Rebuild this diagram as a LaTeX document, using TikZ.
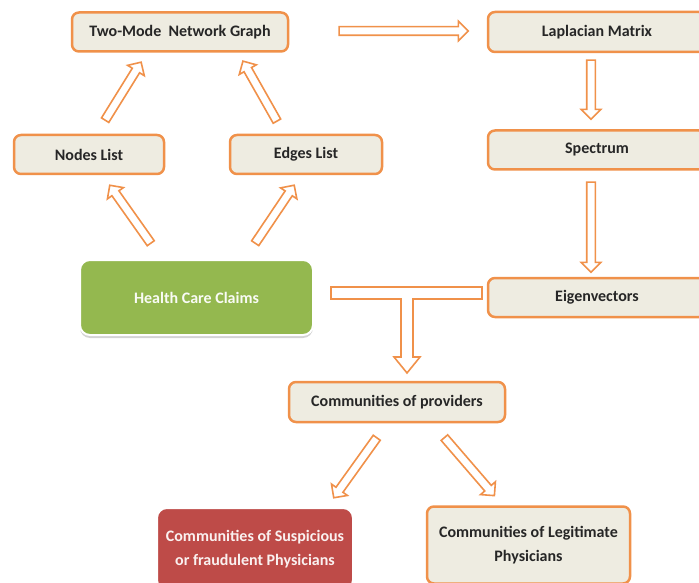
\documentclass[tikz,border=0pt]{standalone}
\usepackage{fontspec}
\setmainfont{Carlito}
\usetikzlibrary{shapes.arrows,calc,shadows}
\definecolor{boxor}{HTML}{F0914A}
\definecolor{boxfill}{HTML}{EEECE1}
\definecolor{hccgreen}{HTML}{94B84F}
\definecolor{fraudred}{HTML}{BE4B48}
\definecolor{txt}{HTML}{262626}
\newcommand\blockarr[2]{%
  \path let \p1=($(#2)-(#1)$), \n1={atan2(\y1,\x1)}, \n2={veclen(\x1,\y1)} in
    node[barr, minimum height=\n2, rotate=\n1] at ($(#1)!0.5!(#2)$) {};}
\begin{document}
\begin{tikzpicture}[x=1pt,y=-1pt,
  box/.style={draw=boxor, line width=2.5pt, fill=boxfill, rounded corners=7pt,
    align=center, text=txt, font=\fontsize{16}{24}\selectfont\bfseries, inner sep=0pt},
  colbox/.style={box, draw=white, line width=2pt, rounded corners=10pt,
    drop shadow={shadow xshift=0pt, shadow yshift=-3pt, opacity=0.35}},
  barr/.style={single arrow, draw=boxor, fill=white, line width=1.6pt,
    inner sep=3.5pt, single arrow head extend=5.5pt, single arrow tip angle=90,
    outer sep=0pt}]
\useasboundingbox (0,0) rectangle (699,583);
% boxes
\node[box, minimum width=216pt, minimum height=39pt] (two) at (180,32) {Two-Mode\ \ Network Graph};
\node[box, minimum width=218pt, minimum height=40pt] (lap) at (597,32) {Laplacian Matrix};
\node[box, minimum width=150pt, minimum height=39pt] (nodes) at (89,154.5) {Nodes List};
\node[box, minimum width=152pt, minimum height=39pt] (edges) at (306,154.5) {Edges List};
\node[box, minimum width=218pt, minimum height=39pt] (spec) at (597,150) {Spectrum};
\node[box, minimum width=218pt, minimum height=39pt] (eig) at (597,297.5) {Eigenvectors};
\node[colbox, fill=hccgreen, text=white!94!hccgreen,
  minimum width=233pt, minimum height=75pt] (hcc) at (196.5,297.5) {Health Care Claims};
\node[box, minimum width=216pt, minimum height=40pt] (comm) at (397,402) {Communities of providers};
\node[colbox, fill=fraudred, text=white!92!fraudred,
  minimum width=196pt, minimum height=82pt] (susp) at (255,549) {Communities of Suspicious\\or fraudulent Physicians};
\node[box, minimum width=203pt, minimum height=77pt] (legit) at (528.5,545) {Communities of Legitimate\\Physicians};
% arrow end points
\coordinate (a1s) at (337,31);  \coordinate (a1e) at (466,31);
\coordinate (a2s) at (591,58);  \coordinate (a2e) at (591,117);
\coordinate (a3s) at (591,180); \coordinate (a3e) at (591,270);
\coordinate (a4s) at (104,122); \coordinate (a4e) at (140,64);
\coordinate (a5s) at (278,123); \coordinate (a5e) at (244,63);
\coordinate (a6s) at (152,245); \coordinate (a6e) at (111,187);
\coordinate (a7s) at (254,245); \coordinate (a7e) at (293,187);
\coordinate (a8s) at (378,436); \coordinate (a8e) at (335,496);
\coordinate (a9s) at (443,436); \coordinate (a9e) at (493,494);
\blockarr{a1s}{a1e}
\blockarr{a2s}{a2e}
\blockarr{a3s}{a3e}
\blockarr{a4s}{a4e}
\blockarr{a5s}{a5e}
\blockarr{a6s}{a6e}
\blockarr{a7s}{a7e}
\blockarr{a8s}{a8e}
\blockarr{a9s}{a9e}
% T-shaped arrow
\draw[draw=boxor, fill=white, line width=1.6pt, line join=miter]
  (331,287) -- (482,287) -- (482,299) -- (413,299) -- (413,357) -- (420,357)
  -- (407,373) -- (394,357) -- (401,357) -- (401,299) -- (331,299) -- cycle;
\end{tikzpicture}
\end{document}
